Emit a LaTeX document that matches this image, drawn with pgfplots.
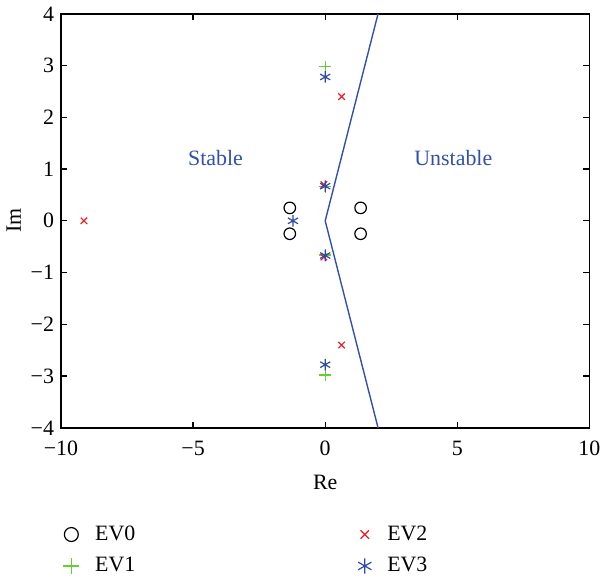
\documentclass[border=0pt]{standalone}
\usepackage{fontspec}
\setmainfont{Liberation Serif}
\usepackage{pgfplots}
\pgfplotsset{compat=1.18}
\definecolor{evgreen}{RGB}{102,204,51}
\definecolor{evred}{RGB}{237,28,36}
\definecolor{evblue}{RGB}{45,75,165}
\definecolor{lineblue}{RGB}{50,80,170}
\begin{document}
\begin{tikzpicture}
\begin{axis}[
    scale only axis,
    width=265.5pt, height=208pt,
    xmin=-10, xmax=10, ymin=-4, ymax=4,
    xtick={-10,-5,0,5,10},
    xticklabels={−10,−5,0,5,10},
    ytick={-4,-3,-2,-1,0,1,2,3,4},
    yticklabels={−4,−3,−2,−1,0,1,2,3,4},
    tick align=inside,
    major tick length=3pt,
    axis line style={line width=0.8pt},
    every tick/.style={black, line width=0.6pt},
    tick label style={font=\fontsize{11}{13}\selectfont},
    xticklabel style={yshift=-3pt},
    label style={font=\fontsize{11}{13}\selectfont},
    xlabel={Re}, ylabel={Im},
    xlabel style={yshift=-3pt},
    ylabel style={yshift=-2pt},
    legend columns=2,
    transpose legend,
    legend cell align=left,
    legend style={draw=none, fill=none,
        at={(rel axis cs:0,0)}, anchor=north west,
        xshift=-2pt, yshift=-45pt,
        font=\fontsize{11}{13}\selectfont,
        row sep=3pt,
        /tikz/every odd column/.append style={column sep=6pt},
        /tikz/every even column/.append style={column sep=110pt}},
]
\addplot[only marks, mark=o, mark size=2.9pt, black, line width=0.6pt,
    legend image post style={mark size=3.5pt}] coordinates {
    (-1.34,0.25) (-1.34,-0.25) (1.34,0.25) (1.34,-0.25)
};
\addlegendentry{EV0}
\addplot[only marks, mark=+, mark size=3pt, evgreen, line width=0.6pt,
    legend image post style={mark size=4pt}] coordinates {
    (0,2.98) (0,0.66) (0,-0.66) (0,-2.98)
};
\addlegendentry{EV1}
\addplot[only marks, mark=x, mark size=2.3pt, evred, line width=0.6pt,
    legend image post style={mark size=3pt}] coordinates {
    (-9.13,0) (0.62,2.4) (0.62,-2.4) (-0.05,0.7) (-0.05,-0.7)
};
\addlegendentry{EV2}
\addplot[only marks, mark=asterisk, mark size=2.9pt, evblue, line width=0.6pt,
    legend image post style={mark size=3.8pt}] coordinates {
    (0,2.78) (0,0.67) (0,-0.67) (0,-2.78) (-1.22,0)
};
\addlegendentry{EV3}
\addplot[lineblue, line width=0.7pt, forget plot] coordinates {
    (2,4) (0,0) (2,-4)
};
\node[lineblue, font=\fontsize{11}{13}\selectfont] at (axis cs:-4.15,1.22) {Stable};
\node[lineblue, font=\fontsize{11}{13}\selectfont] at (axis cs:4.85,1.22) {Unstable};
\end{axis}
\end{tikzpicture}
\end{document}
